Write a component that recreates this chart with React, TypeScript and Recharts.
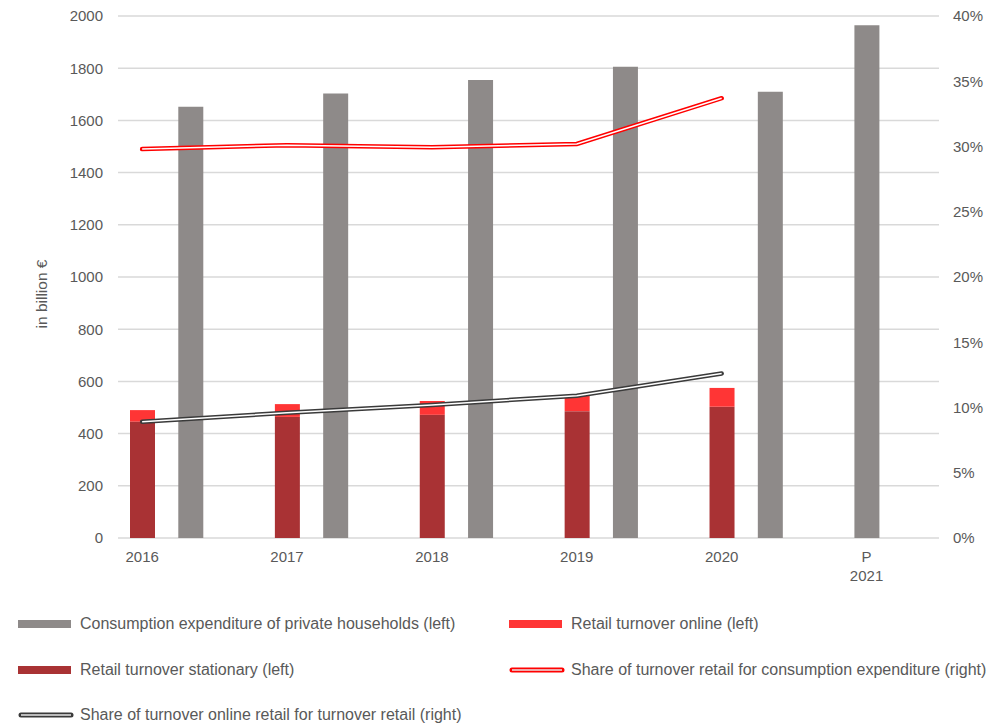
import { ComposedChart, Bar, Line, XAxis, YAxis, CartesianGrid, Label } from 'recharts'

const years = ['2016', '2017', '2018', '2019', '2020', 'P\n2021']
const consumption = [1652, 1703, 1755, 1806, 1710, 1965]
const stationary = [446, 464, 472, 486, 503]
const online = [44, 49, 53, 60, 72]
const shareRetail = [29.8, 30.1, 29.95, 30.2, 33.7]
const shareOnline = [8.9, 9.6, 10.2, 10.9, 12.6]
const leftTicks = [0, 200, 400, 600, 800, 1000, 1200, 1400, 1600, 1800, 2000]
const rightTicks = [0, 5, 10, 15, 20, 25, 30, 35, 40]

const TEXT = '#595959'
const GRID = '#d9d9d9'
const GREY = '#8e8a89'
const DARK_RED = '#a93234'
const RED = '#ff3535'
const FONT = '"Liberation Sans", Arial, sans-serif'

// Excel places the pair of bars on a finer grid: three slots per year
type Row = {
  slot: number
  label: string
  consumption?: number
  stationary?: number
  online?: number
  shareRetail?: number
  shareOnline?: number
}

const rows: Row[] = Array.from({ length: 17 }, (_, i) => ({ slot: i, label: '' }))
years.forEach((year, k) => {
  const r = rows[k * 3]
  r.label = year
  if (k < stationary.length) {
    r.stationary = stationary[k]
    r.online = online[k]
    r.shareRetail = shareRetail[k]
    r.shareOnline = shareOnline[k]
    rows[k * 3 + 1].consumption = consumption[k]
  } else {
    r.consumption = consumption[k]
  }
})

function YearTick({ x, y, payload }: any) {
  const label = rows[payload.value]?.label
  if (!label) return null
  const lines = label.split('\n')
  return (
    <text x={x} y={y + 24} textAnchor="middle" fill={TEXT} fontSize={15} fontFamily={FONT}>
      {lines.map((l: string, i: number) => (
        <tspan key={i} x={x} dy={i === 0 ? 0 : 19}>
          {l}
        </tspan>
      ))}
    </text>
  )
}

const legend = [
  { label: 'Consumption expenditure of private households (left)', kind: 'bar', color: GREY, col: 0, row: 0 },
  { label: 'Retail turnover online (left)', kind: 'bar', color: RED, col: 1, row: 0 },
  { label: 'Retail turnover stationary (left)', kind: 'bar', color: DARK_RED, col: 0, row: 1 },
  { label: 'Share of turnover retail for consumption expenditure (right)', kind: 'line', color: '#ff0000', col: 1, row: 1 },
  { label: 'Share of turnover online retail for turnover retail (right)', kind: 'line', color: '#3a3a3a', col: 0, row: 2 },
]

function LegendIcon({ kind, color }: { kind: string; color: string }) {
  if (kind === 'bar') {
    return <div style={{ width: 53, height: 8, background: color }} />
  }
  return (
    <svg width={56} height={10}>
      <line x1={3} y1={5} x2={53} y2={5} stroke={color} strokeWidth={5} strokeLinecap="round" />
      <line x1={3} y1={5} x2={53} y2={5} stroke="#e6e6e6" strokeWidth={1.6} />
    </svg>
  )
}

export default function App() {
  return (
    <div style={{ position: 'absolute', left: 0, top: 0, width: 990, height: 726, background: '#fff', fontFamily: FONT }}>
      <ComposedChart width={990} height={590} data={rows} margin={{ top: 16, right: 0, bottom: 10, left: 0 }}>
        <CartesianGrid vertical={false} stroke={GRID} strokeWidth={1.5} yAxisId="left" />
        <XAxis dataKey="slot" interval={0} tick={<YearTick />} tickLine={false} axisLine={false} tickSize={0} tickMargin={0} height={42} />
        <YAxis
          yAxisId="left"
          width={118}
          domain={[0, 2000]}
          ticks={leftTicks}
          interval={0}
          tickLine={false}
          axisLine={false}
          tickSize={0}
          tickMargin={15}
          tick={{ fill: TEXT, fontSize: 15, fontFamily: FONT }}
        >
          <Label
            content={() => (
              <text x={43} y={294} transform="rotate(-90 43 294)" textAnchor="middle" dominantBaseline="middle" fill={TEXT} fontSize={15.5} fontFamily={FONT}>
                in billion €
              </text>
            )}
          />
        </YAxis>
        <YAxis
          yAxisId="right"
          orientation="right"
          width={51}
          domain={[0, 40]}
          ticks={rightTicks}
          interval={0}
          tickLine={false}
          axisLine={false}
          tickSize={0}
          tickMargin={14}
          tickFormatter={(v: number) => `${v}%`}
          tick={{ fill: TEXT, fontSize: 15, fontFamily: FONT, textAnchor: 'start' }}
        />
        <Bar yAxisId="left" dataKey="stationary" stackId="a" fill={DARK_RED} barSize={25} isAnimationActive={false} />
        <Bar yAxisId="left" dataKey="online" stackId="a" fill={RED} barSize={25} isAnimationActive={false} />
        <Bar yAxisId="left" dataKey="consumption" stackId="a" fill={GREY} barSize={25} isAnimationActive={false} />
        <Line yAxisId="right" dataKey="shareRetail" stroke="#ff0000" strokeWidth={4.5} strokeLinecap="round" dot={false} connectNulls isAnimationActive={false} />
        <Line yAxisId="right" dataKey="shareRetail" stroke="#ffffff" strokeWidth={1.5} dot={false} connectNulls isAnimationActive={false} />
        <Line yAxisId="right" dataKey="shareOnline" stroke="#3a3a3a" strokeWidth={4.5} strokeLinecap="round" dot={false} connectNulls isAnimationActive={false} />
        <Line yAxisId="right" dataKey="shareOnline" stroke="#ffffff" strokeWidth={1.5} dot={false} connectNulls isAnimationActive={false} />
      </ComposedChart>
      {legend.map((item) => (
        <div
          key={item.label}
          style={{
            position: 'absolute',
            left: item.col === 0 ? 18 : 509,
            top: 624 + item.row * 45.5 - 10,
            height: 20,
            display: 'flex',
            alignItems: 'center',
            gap: item.kind === 'bar' ? 9 : 6,
            color: TEXT,
            fontSize: 16,
            whiteSpace: 'nowrap',
          }}
        >
          <LegendIcon kind={item.kind} color={item.color} />
          <span>{item.label}</span>
        </div>
      ))}
    </div>
  )
}
